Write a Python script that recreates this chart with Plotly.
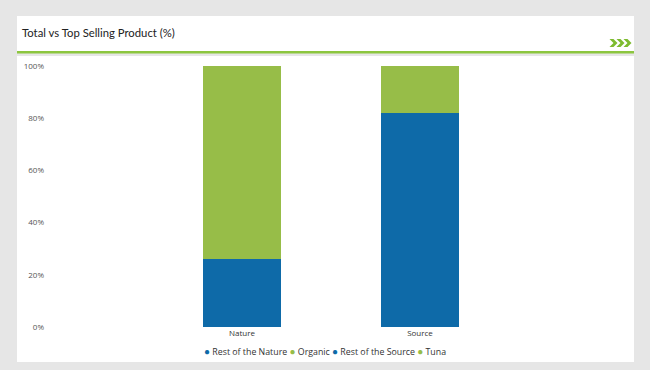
import plotly.graph_objects as go

W, H = 650, 370

categories = ["Nature", "Source"]
series_names = ["Rest of the Nature", "Organic", "Rest of the Source", "Tuna"]
series_cats = ["Nature", "Nature", "Source", "Source"]
series_values = [26, 74, 82, 18]
y_tickvals = [0, 20, 40, 60, 80, 100]
y_ticktext = ["0%", "20%", "40%", "60%", "80%", "100%"]

BLUE = "#0e6aa8"
GREEN = "#97bd48"
series_colors = [BLUE, GREEN, BLUE, GREEN]

def px(x):
    return x / W

def py(y):
    return 1 - y / H

fig = go.Figure()
for name, cat, val, col in zip(series_names, series_cats, series_values, series_colors):
    fig.add_trace(go.Bar(x=[cat], y=[val], name=name, marker_color=col,
                         marker_line_width=0, width=0.433, showlegend=False,
                         hovertemplate=name + ": %{y}%<extra></extra>"))

shapes = [
    dict(type="rect", xref="paper", yref="paper", x0=px(17), x1=px(634), y0=py(51), y1=py(16),
         fillcolor="white", line_width=0, layer="below"),
    dict(type="rect", xref="paper", yref="paper", x0=px(17), x1=px(634), y0=py(53.5), y1=py(51),
         fillcolor="#8cc63f", line_width=0, layer="below"),
    dict(type="rect", xref="paper", yref="paper", x0=px(17), x1=px(634), y0=py(362), y1=py(56),
         fillcolor="white", line_width=0, layer="below"),
]
# chevrons
for i in range(3):
    x = 609.5 + i * 7
    y0, y1, ym = 39, 47, 43
    pts = [(x, y0), (x + 4, y0), (x + 8, ym), (x + 4, y1), (x, y1), (x + 4, ym)]
    path = "M " + " L ".join(f"{px(a):.5f},{py(b):.5f}" for a, b in pts) + " Z"
    shapes.append(dict(type="path", xref="paper", yref="paper", path=path,
                       fillcolor="#7dbb2f", line_width=0))

legend_text = " ".join(
    f"<span style='color:{c};font-size:10px'>●</span> {n}"
    for n, c in zip(series_names, series_colors))

fig.update_layout(
    width=W, height=H, autosize=False,
    margin=dict(l=0, r=0, t=0, b=0, pad=0),
    paper_bgcolor="#e6e6e6",
    plot_bgcolor="rgba(0,0,0,0)",
    barmode="stack",
    showlegend=False,
    shapes=shapes,
    font=dict(family="Open Sans, sans-serif", color="#333333"),
    annotations=[
        dict(text="Total vs Top Selling Product (%)", xref="paper", yref="paper",
             x=px(20), y=py(33), xanchor="left", yanchor="middle", showarrow=False,
             font=dict(size=11.3, color="#222222", family="Lato, sans-serif")),
        dict(text=legend_text, xref="paper", yref="paper",
             x=0.5, y=py(351), xanchor="center", yanchor="middle", showarrow=False,
             font=dict(size=8.8, color="#333333", family="Open Sans, sans-serif")),
    ],
    xaxis=dict(domain=[px(45), px(625)], type="category", categoryorder="array",
               categoryarray=categories, range=[-1.107, 2.152], automargin=False,
               showgrid=False, zeroline=False, showline=False, ticks="",
               tickfont=dict(size=8, color="#333333")),
    yaxis=dict(domain=[py(327), py(66)], range=[0, 100], tickvals=y_tickvals, ticktext=y_ticktext,
               automargin=False,
               showgrid=False, zeroline=False, showline=False, ticks="",
               tickfont=dict(size=8, color="#555555")),
)

fig.write_html("out.html",
               config={"displayModeBar": False, "responsive": False},
               post_script="document.body.style.margin='0';document.body.style.overflow='hidden';")
